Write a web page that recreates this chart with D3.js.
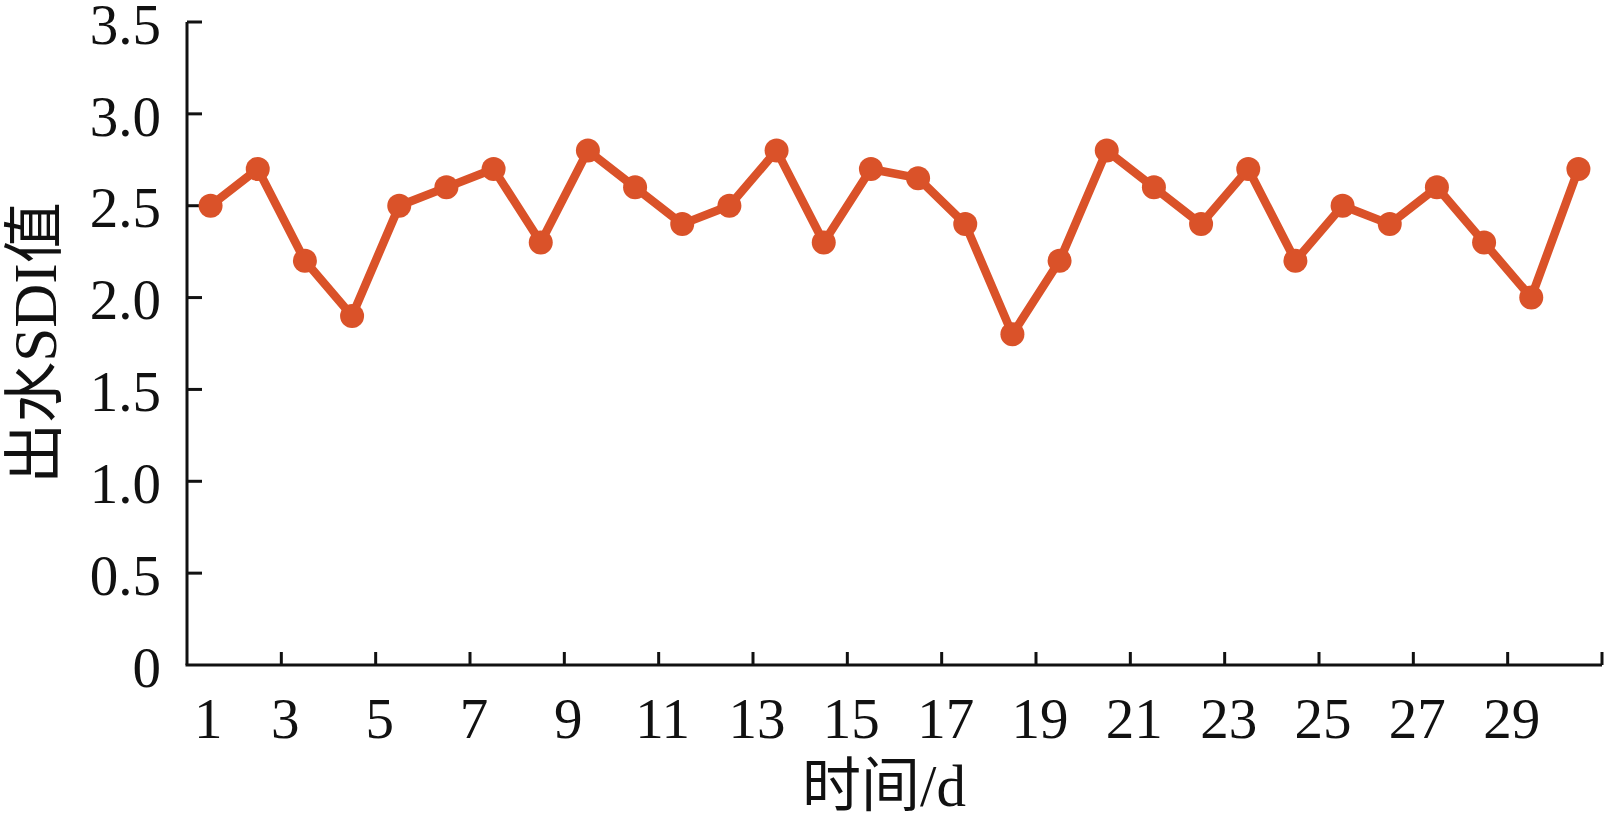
<!DOCTYPE html>
<html><head><meta charset="utf-8">
<script src="https://cdn.jsdelivr.net/npm/d3@7"></script>
<style>body{margin:0;background:#fff}svg{display:block}</style>
</head><body>
<script>
const days = d3.range(1, 31);
const sdi = [2.5,2.7,2.2,1.9,2.5,2.6,2.7,2.3,2.8,2.6,2.4,2.5,2.8,2.3,2.7,2.65,2.4,1.8,2.2,2.8,2.6,2.4,2.7,2.2,2.5,2.4,2.6,2.3,2.0,2.7];
const yTicks = [0,0.5,1.0,1.5,2.0,2.5,3.0,3.5];
const yTickLabels = ["0","0.5","1.0","1.5","2.0","2.5","3.0","3.5"];
const xTicks = [3,5,7,9,11,13,15,17,19,21,23,25,27,29,31];
const xLabels = [1,3,5,7,9,11,13,15,17,19,21,23,25,27,29];
const xTitle = "时间/d", yTitle = "出水SDI值";

(function () {
const W = 1612, H = 817;
const mLeft = 187, mRight = 1602, mTop = 22, mBottom = 665;
const color = "#DA5229";
const font = "'Liberation Serif','Noto Sans CJK SC',serif";

const svg = d3.select("body").append("svg").attr("width", W).attr("height", H);
const x = d3.scaleLinear().domain([1, 31]).range([mLeft, mRight]);
const y = d3.scaleLinear().domain([0, 3.5]).range([mBottom, mTop]);

const ax = svg.append("g").attr("stroke", "#111").attr("stroke-width", 3);
ax.append("line").attr("x1", mLeft).attr("x2", mLeft).attr("y1", y(3.5)).attr("y2", mBottom);
ax.append("line").attr("x1", mLeft - 1.5).attr("x2", mRight).attr("y1", mBottom).attr("y2", mBottom);
ax.selectAll(".yt").data(yTicks.slice(1)).join("line")
  .attr("x1", mLeft).attr("x2", mLeft + 15).attr("y1", d => y(d)).attr("y2", d => y(d));
ax.selectAll(".xt").data(xTicks).join("line")
  .attr("x1", d => x(d)).attr("x2", d => x(d)).attr("y1", mBottom).attr("y2", mBottom - 13);

svg.selectAll(".yl").data(yTicks).join("text")
  .attr("x", mLeft - 26).attr("y", d => y(d)).attr("dy", "0.38em")
  .attr("text-anchor", "end").attr("font-family", font).attr("font-size", 57).attr("fill", "#111")
  .text((d, i) => yTickLabels[i]);

svg.selectAll(".xl").data(xLabels).join("text")
  .attr("x", d => d === 1 ? x(1.45) : x(d) + 4).attr("y", 738)
  .attr("text-anchor", "middle").attr("font-family", font).attr("font-size", 57).attr("fill", "#111")
  .text(d => d);

svg.append("text").attr("x", 884).attr("y", 806).attr("text-anchor", "middle")
  .attr("font-family", font).attr("font-size", 59).attr("fill", "#111").text(xTitle);
svg.append("text").attr("transform", "translate(56,343) rotate(-90)").attr("text-anchor", "middle")
  .attr("font-family", font).attr("font-size", 61).attr("fill", "#111").text(yTitle);

const pts = days.map((d, i) => [x(d + 0.5), y(sdi[i])]);
svg.append("path").attr("d", d3.line()(pts)).attr("fill", "none")
  .attr("stroke", color).attr("stroke-width", 8.5).attr("stroke-linejoin", "round");
svg.selectAll(".pt").data(pts).join("circle")
  .attr("cx", d => d[0]).attr("cy", d => d[1]).attr("r", 12).attr("fill", color);
})();
</script>
</body></html>
